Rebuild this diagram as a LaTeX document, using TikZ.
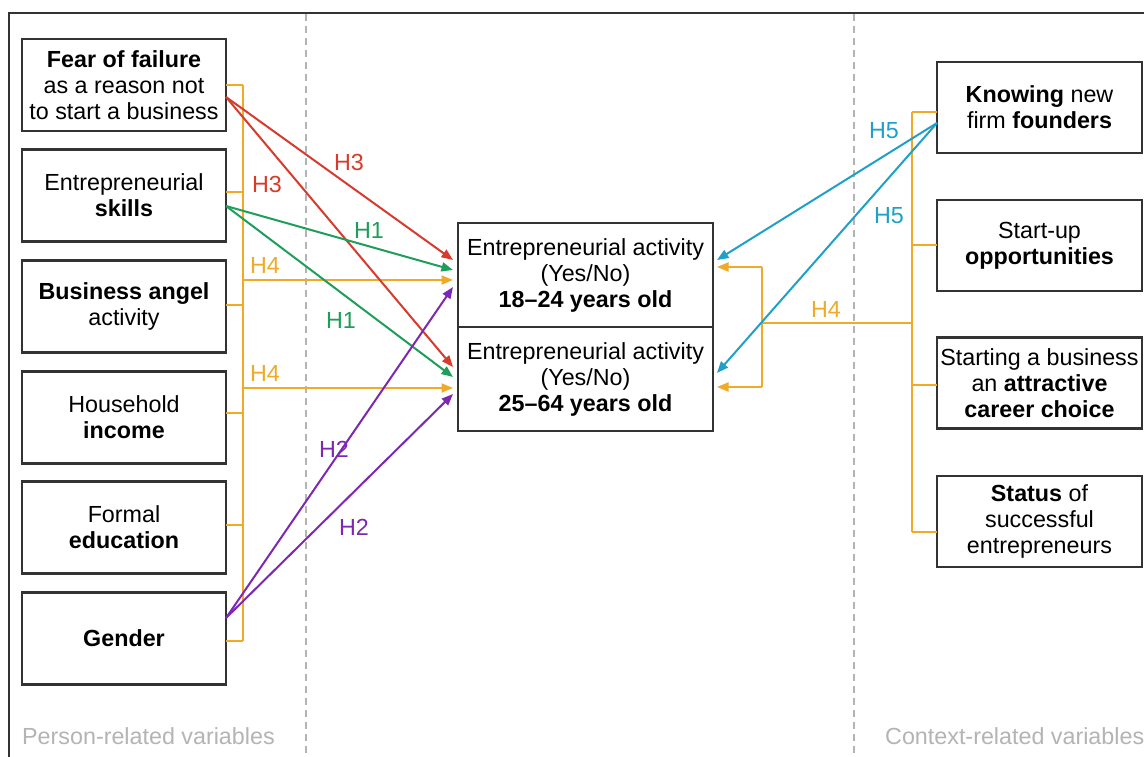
\documentclass[tikz,border=0pt]{standalone}
\usepackage{fontspec}
\setmainfont{Liberation Sans}
\usetikzlibrary{arrows.meta}
\definecolor{cor}{HTML}{F0AA28}
\definecolor{cred}{HTML}{D63C2D}
\definecolor{cgreen}{HTML}{1E9E5A}
\definecolor{cpurple}{HTML}{7D28B4}
\definecolor{cblue}{HTML}{1EA0C8}
\definecolor{cdash}{HTML}{B4B4B4}
\definecolor{cframe}{HTML}{333333}
\definecolor{clab}{HTML}{B4B4B4}
\tikzset{
  txt/.style={font=\fontsize{23.3}{26}\selectfont},
  varbox/.style={txt, draw=cframe, line width=2.2pt, fill=white, align=center, inner sep=0pt, outer sep=0pt},
  leftbox/.style={varbox, minimum width=204pt, minimum height=92pt},
  rightbox/.style={varbox, minimum width=205pt, minimum height=91pt},
  midbox/.style={varbox, minimum width=255pt, minimum height=104pt},
  conn/.style={line width=2pt},
  arr/.style={conn, -{Triangle[length=11.5pt,width=9pt]}},
  hlab/.style={txt, inner sep=0pt},
  sep/.style={cdash, line width=1.5pt, dash pattern=on 7pt off 5pt}
}
\begin{document}
\begin{tikzpicture}[x=1pt,y=-1pt]
\useasboundingbox (0,0) rectangle (1144,756);
\clip (0,0) rectangle (1144,756);
\fill[white] (0,0) rectangle (1144,756);
\draw[cframe, line width=2.2pt] (9,13) rectangle (1170,780);
\draw[sep] (306,14) -- (306,756);
\draw[sep] (854,14) -- (854,756);

% left boxes
\node[leftbox] (fear) at (124,85) {\textbf{Fear of failure}\\as a reason not\\to start a business};
\node[leftbox] (skills) at (124,195.5) {Entrepreneurial\\\textbf{skills}};
\node[leftbox] (angel) at (124,306.5) {\textbf{Business angel}\\activity};
\node[leftbox] (income) at (124,417.5) {Household\\\textbf{income}};
\node[leftbox] (educ) at (124,527.5) {Formal\\\textbf{education}};
\node[leftbox] (gender) at (124,638.5) {\textbf{Gender}};

% middle boxes
\node[midbox] (ea1) at (585.5,275) {Entrepreneurial activity\\(Yes/No)\\\textbf{18–24 years old}};
\node[midbox] (ea2) at (585.5,379) {Entrepreneurial activity\\(Yes/No)\\\textbf{25–64 years old}};

% right boxes
\node[rightbox] (know) at (1039.5,107.5) {\textbf{Knowing} new\\firm \textbf{founders}};
\node[rightbox] (opp) at (1039.5,245.5) {Start-up\\\textbf{opportunities}};
\node[rightbox] (career) at (1039.5,383) {Starting a business\\an \textbf{attractive}\\\textbf{career choice}};
\node[rightbox] (status) at (1039.5,521.5) {\textbf{Status} of\\successful\\entrepreneurs};

% left orange bus
\coordinate (lbt) at (243,85);
\coordinate (lbb) at (243,641);
\draw[conn, cor] (lbt) -- (lbb);
\draw[conn, cor] (fear.east) -- (lbt);
\draw[conn, cor] ([yshift=3.5pt]skills.east) -- ++(17,0);
\draw[conn, cor] ([yshift=1.5pt]angel.east) -- ++(17,0);
\draw[conn, cor] ([yshift=4.5pt]income.east) -- ++(17,0);
\draw[conn, cor] ([yshift=2.5pt]educ.east) -- ++(17,0);
\draw[conn, cor] ([yshift=-2.5pt]gender.east) -- (lbb);
\coordinate (h4a) at (243,280);
\coordinate (h4b) at (243,388);
\draw[arr, cor] (h4a) -- ([xshift=-5pt,yshift=-5pt]ea1.west);
\draw[arr, cor] (h4b) -- ([xshift=-5pt,yshift=-9pt]ea2.west);

% red H3
\draw[arr, cred] ([yshift=-12pt]fear.east) -- ([xshift=-5pt,yshift=15pt]ea1.west);
\draw[arr, cred] ([yshift=-12pt]fear.east) -- ([xshift=-5pt,yshift=12pt]ea2.west);
% green H1
\draw[arr, cgreen] ([yshift=-10.5pt]skills.east) -- ([xshift=-5pt,yshift=5pt]ea1.west);
\draw[arr, cgreen] ([yshift=-10.5pt]skills.east) -- ([xshift=-5pt,yshift=2pt]ea2.west);
% purple H2
\draw[arr, cpurple] ([yshift=20.5pt]gender.east) -- ([xshift=-5pt,yshift=-12pt]ea1.west);
\draw[arr, cpurple] ([yshift=20.5pt]gender.east) -- ([xshift=-5pt,yshift=-15pt]ea2.west);

% right orange bus
\coordinate (rbt) at (912,112);
\coordinate (rbb) at (912,532);
\coordinate (rbm) at (912,323);
\coordinate (rjm) at (762,323);
\coordinate (rjt) at (762,267);
\coordinate (rjb) at (762,387);
\draw[conn, cor] (rbt) -- (rbb);
\draw[conn, cor] ([yshift=-4.5pt]know.west) -- (rbt);
\draw[conn, cor] ([yshift=0.5pt]opp.west) -- ++(-25,0);
\draw[conn, cor] ([yshift=-2pt]career.west) -- ++(-25,0);
\draw[conn, cor] ([yshift=-10.5pt]status.west) -- (rbb);
\draw[conn, cor] (rbm) -- (rjm);
\draw[conn, cor] (rjt) -- (rjb);
\draw[arr, cor] (rjt) -- ([xshift=4pt,yshift=8pt]ea1.east);
\draw[arr, cor] (rjb) -- ([xshift=4pt,yshift=-8pt]ea2.east);

% blue H5
\draw[arr, cblue] ([yshift=-15.5pt]know.west) -- ([xshift=4pt,yshift=15pt]ea1.east);
\draw[arr, cblue] ([yshift=-15.5pt]know.west) -- ([xshift=4pt,yshift=6pt]ea2.east);

% labels
\node[hlab, cred] (l3a) at (349,162) {H3};
\node[hlab, cred] (l3b) at (267,184) {H3};
\node[hlab, cgreen] (l1a) at (369,230) {H1};
\node[hlab, cgreen] (l1b) at (341,320) {H1};
\node[hlab, cor] (l4a) at (265,265) {H4};
\node[hlab, cor] (l4b) at (265,373) {H4};
\node[hlab, cpurple] (l2a) at (334,449) {H2};
\node[hlab, cpurple] (l2b) at (354,527) {H2};
\node[hlab, cblue] (l5a) at (884,131) {H5};
\node[hlab, cblue] (l5b) at (889,216) {H5};
\node[hlab, cor] (l4c) at (826,309) {H4};

\node[txt, clab, anchor=base west, inner sep=0pt] (plab) at (22,744) {Person-related variables};
\node[txt, clab, anchor=base west, inner sep=0pt] (clab) at (885,744) {Context-related variables};
\end{tikzpicture}
\end{document}
